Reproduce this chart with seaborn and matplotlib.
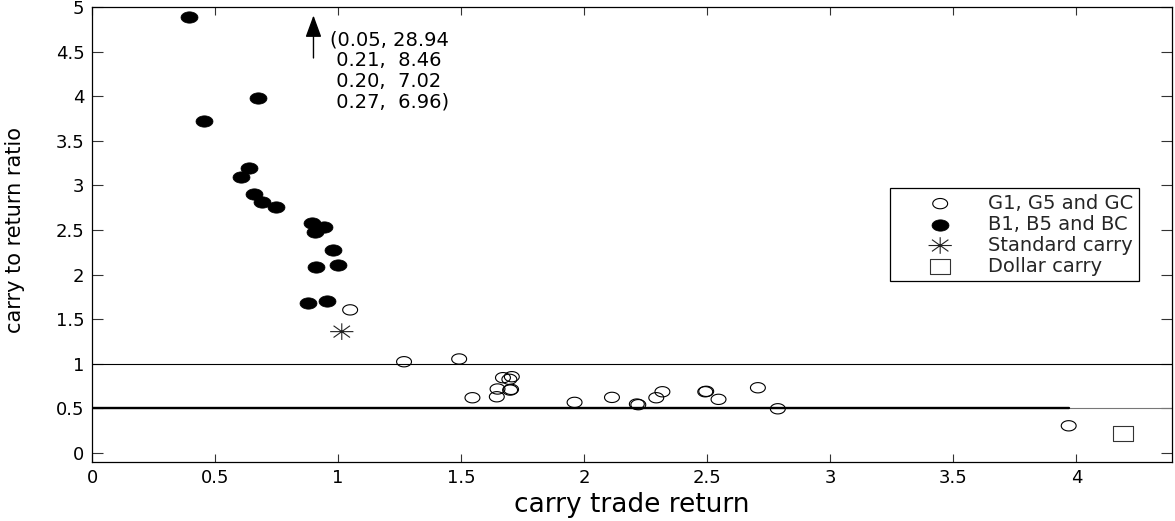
import numpy as np
import matplotlib
matplotlib.use("Agg")
import matplotlib.pyplot as plt
from matplotlib.path import Path
from matplotlib.markers import MarkerStyle
import seaborn as sns

# ---------------- data ----------------
good_x = [1.049, 1.268, 1.492, 1.546, 1.645, 1.648, 1.670, 1.706, 1.696, 1.699, 1.703,
          1.961, 2.113, 2.214, 2.220, 2.293, 2.318, 2.492, 2.496, 2.546, 2.706, 2.787, 3.969]
good_y = [1.604, 1.022, 1.053, 0.618, 0.629, 0.716, 0.843, 0.854, 0.825, 0.704, 0.712,
          0.566, 0.622, 0.547, 0.540, 0.618, 0.685, 0.685, 0.690, 0.600, 0.730, 0.494, 0.303]

bad_x = [0.394, 0.675, 0.455, 0.638, 0.606, 0.659, 0.691, 0.748, 0.894, 0.943,
         0.907, 0.980, 1.000, 0.911, 0.878, 0.955]
bad_y = [4.888, 3.985, 3.727, 3.193, 3.090, 2.907, 2.817, 2.761, 2.581, 2.536,
         2.480, 2.278, 2.110, 2.087, 1.682, 1.705]

standard_x = [1.015]
standard_y = [1.360]

dollar_x = [4.190]
dollar_y = [0.218]

# B-portfolios that fall off the top of the chart
offscale_x = [0.05, 0.21, 0.20, 0.27]
offscale_y = [28.94, 8.46, 7.02, 6.96]

ref_levels = [1.0, 0.5]

series_labels = ["G1, G5 and GC", "B1, B5 and BC", "Standard carry", "Dollar carry"]
x_ticks = [0, 0.5, 1, 1.5, 2, 2.5, 3, 3.5, 4]
x_tick_labels = ["0", "0.5", "1", "1.5", "2", "2.5", "3", "3.5", "4"]
y_ticks = [0, 0.5, 1, 1.5, 2, 2.5, 3, 3.5, 4, 4.5, 5]
y_tick_labels = ["0", "0.5", "1", "1.5", "2", "2.5", "3", "3.5", "4", "4.5", "5"]
x_label = "carry trade return"
y_label = "carry to return ratio"

# ---------------- style ----------------
sns.set_theme(style="white")
plt.rcParams["font.family"] = ["DejaVu Sans"]
plt.rcParams["axes.edgecolor"] = "black"
plt.rcParams["axes.linewidth"] = 0.9


def ellipse_marker(aspect, n=72):
    t = np.linspace(0, 2 * np.pi, n)
    verts = np.column_stack([aspect * np.cos(t), np.sin(t)])
    codes = [Path.MOVETO] + [Path.LINETO] * (n - 2) + [Path.CLOSEPOLY]
    return MarkerStyle(Path(verts, codes))


def star_marker(aspect):
    verts, codes = [], []
    for a in np.deg2rad([0, 45, 90, 135]):
        verts += [(-aspect * np.cos(a), -np.sin(a)), (aspect * np.cos(a), np.sin(a))]
        codes += [Path.MOVETO, Path.LINETO]
    return MarkerStyle(Path(verts, codes))


def rect_marker(aspect):
    verts = [(-aspect, -1), (aspect, -1), (aspect, 1), (-aspect, 1), (-aspect, -1)]
    codes = [Path.MOVETO, Path.LINETO, Path.LINETO, Path.LINETO, Path.CLOSEPOLY]
    return MarkerStyle(Path(verts, codes))


fig = plt.figure(figsize=(11.75, 5.21), dpi=100)
ax = fig.add_axes([0.0783, 0.1138, 0.9194, 0.8722])

x_min, x_max = 0, 4.39
ax.set_xlim(x_min, x_max)
ax.set_ylim(-0.1, 5.0)

# reference lines
ax.axhline(ref_levels[0], color="black", lw=0.8, zorder=1)
ax.axhline(ref_levels[1], color="#777777", lw=0.8, zorder=1)
ax.plot([x_min, max(good_x)], [ref_levels[1], ref_levels[1]], color="black", lw=1.7, zorder=1)

sns.scatterplot(x=good_x, y=good_y, ax=ax, marker=ellipse_marker(1.45), s=115,
                facecolor="none", edgecolor="black", linewidth=0.8,
                label=series_labels[0], zorder=3)
sns.scatterplot(x=bad_x, y=bad_y, ax=ax, marker=ellipse_marker(1.5), s=150,
                color="black", edgecolor="black", linewidth=0.5,
                label=series_labels[1], zorder=3)
sns.scatterplot(x=standard_x, y=standard_y, ax=ax, marker=star_marker(1.4), s=280,
                facecolor="none", edgecolor="#222222", linewidth=0.8,
                label=series_labels[2], zorder=3)
sns.scatterplot(x=dollar_x, y=dollar_y, ax=ax, marker=rect_marker(1.33), s=200,
                facecolor="none", edgecolor="#333333", linewidth=0.8,
                label=series_labels[3], zorder=3)

# arrow + text for the off-scale points
ax.annotate("", xy=(0.90, 4.94), xytext=(0.90, 4.40),
            arrowprops=dict(arrowstyle="-|>,head_length=0.9,head_width=0.33",
                            mutation_scale=15, color="black", lw=1.0))
lines = []
for i, (ox, oy) in enumerate(zip(offscale_x, offscale_y)):
    prefix = "(" if i == 0 else " "
    suffix = ")" if i == len(offscale_x) - 1 else ""
    lines.append(f"{prefix}{ox:.2f}, {oy:5.2f}{suffix}")
ax.text(0.968, 4.74, "\n".join(lines), ha="left", va="top", fontsize=14,
        linespacing=1.12, color="black")

# axes cosmetics
ax.set_xticks(x_ticks)
ax.set_xticklabels(x_tick_labels)
ax.set_yticks(y_ticks)
ax.set_yticklabels(y_tick_labels)
ax.tick_params(axis="x", direction="in", length=5.5, width=0.8, color="#333333",
               top=True, bottom=True, labelsize=13, pad=5.5, labelcolor="black")
ax.tick_params(axis="y", direction="in", length=7.7, width=0.8, color="#333333",
               left=True, right=True, labelsize=13, pad=5.5, labelcolor="black")
for sp in ax.spines.values():
    sp.set_visible(True)
    sp.set_color("black")

ax.set_xlabel(x_label, fontsize=19, color="black")
ax.set_ylabel(y_label, fontsize=15, color="black")
ax.xaxis.set_label_coords(0.5, -0.066)
ax.yaxis.set_label_coords(-0.062, 0.51)

leg = ax.legend(loc="upper left", bbox_to_anchor=(0.7387, 0.6017), borderaxespad=0,
                fontsize=14, frameon=True, fancybox=False, framealpha=1,
                edgecolor="black", borderpad=0.28, labelspacing=0.1,
                handlelength=4.6, handletextpad=0.15, scatterpoints=1)
leg.get_frame().set_linewidth(0.9)

fig.savefig("out.png", dpi=100, facecolor="white")
